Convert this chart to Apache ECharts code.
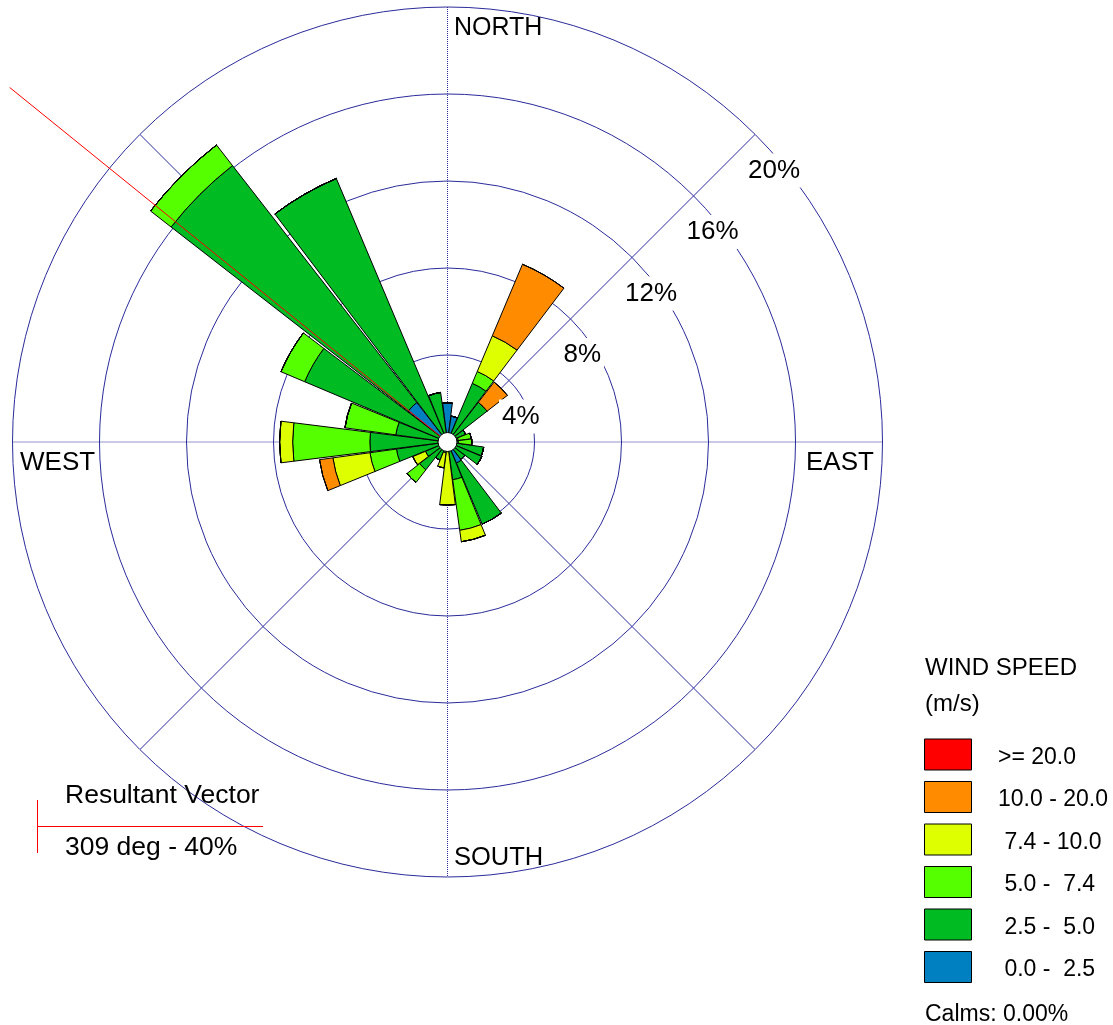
<!DOCTYPE html>
<html>
<head>
<meta charset="utf-8">
<script src="https://cdn.jsdelivr.net/npm/echarts@6/dist/echarts.min.js"></script>
<style>
html,body{margin:0;padding:0;background:#fff;}
#chart{width:1113px;height:1025px;}
</style>
</head>
<body>
<div id="chart"></div>
<script>
// ---- data ----
const directions = [0,15,30,45,60,75,90,105,120,135,150,165,180,195,210,225,240,255,270,285,300,315,330,345];
const speedClasses = ['>= 20.0', '10.0 - 20.0', ' 7.4 - 10.0', ' 5.0 -  7.4', ' 2.5 -  5.0', ' 0.0 -  2.5'];
const speedColors = ['#FF0000', '#FF8C00', '#DDFF00', '#55FF00', '#00BB22', '#0080C0'];
// percent frequency per direction, per speed class
const s0_2_5   = [1.8,1.2,0,0,0,0,0,0,0,0,1.05,0,0,0,0,0,0,0,0,0,0,2.3,0,0];
const s2_5_5   = [0,0,2.93,2.31,0.9,0.5,0.5,1.68,1.71,1.0,3.05,1.75,0.45,0.5,0.9,1.62,1.1,2.37,3.57,2.4,7.13,13.8,13.15,2.3];
const s5_7_4   = [0,0,0.59,0,0,0.6,0.62,0,0,0,0,2.35,0,0,0,0.74,0,1.23,3.55,2.36,1.18,1.2,0,0];
const s7_4_10  = [0,0,1.78,0,0,0,0,0,0,0,0,0.53,2.45,0.7,0,0,0.63,1.72,0.6,0,0,0,0,0];
const s10_20   = [0,0,3.57,1.18,0,0,0,0,0,0,0,0,0,0,0,0,0,0.62,0,0,0,0,0,0];
const s20      = [0,0,0,0,0,0,0,0,0,0,0,0,0,0,0,0,0,0,0,0,0,0,0,0];
const ringValues = [4,8,12,16,20];
const resultantDir = 309;
const resultantLen = 25.9; // drawn length on the percent scale (line runs off the rose)
const calms = '0.00%';

// ---- layout ----
const CX = 447.5, CY = 442, R = 435;
const FONT = '"Liberation Sans", Arial, sans-serif';
const GRID = '#2b2b9b';

const chart = echarts.init(document.getElementById('chart'), null, {renderer:'canvas'});

const stackData = [s0_2_5, s2_5_5, s5_7_4, s7_4_10, s10_20, s20];
const stackColors = speedColors.slice().reverse();
const stackNames = speedClasses.slice().reverse();

const series = [];
// grid lines in second polar
series.push({type:'line', coordinateSystem:'polar', polarIndex:1, z:1, symbol:'none', silent:true, animation:false,
  lineStyle:{color:GRID, width:1, type:[1,1]}, data:[[20,0],[20,180]]});
series.push({type:'line', coordinateSystem:'polar', polarIndex:1, z:1, symbol:'none', silent:true, animation:false,
  lineStyle:{color:GRID, width:1, type:[1,1]}, data:[[20,90],[20,270]]});
series.push({type:'line', coordinateSystem:'polar', polarIndex:1, z:1, symbol:'none', silent:true, animation:false,
  lineStyle:{color:GRID, width:1}, data:[[20,45],[20,225]]});
series.push({type:'line', coordinateSystem:'polar', polarIndex:1, z:1, symbol:'none', silent:true, animation:false,
  lineStyle:{color:GRID, width:1}, data:[[20,135],[20,315]]});

stackData.forEach((d, i) => {
  series.push({
    type:'bar', coordinateSystem:'polar', polarIndex:0, stack:'wind', name:stackNames[i], z:2,
    barCategoryGap:'5%', animation:false,
    itemStyle:{color:stackColors[i], borderColor:'#000', borderWidth:1},
    data:d
  });
});

const graphics = [];
// ring labels
ringValues.forEach(v => {
  const r = v / 20 * R;
  graphics.push({type:'text', z:10, x: CX + r*Math.SQRT1_2 - 10, y: CY - r*Math.SQRT1_2 + 36,
    style:{text: v + '%', font: '26px ' + FONT, fill:'#000', textAlign:'left', textVerticalAlign:'middle',
      backgroundColor:'#fff', padding:[5,3,3,3]}});
});
// compass labels
[['NORTH',454,28,25],['SOUTH',454,858,25.5],['WEST',20,463,26],['EAST',806,463,26]].forEach(t => {
  graphics.push({type:'text', z:10, x:t[1], y:t[2], style:{text:t[0], font:t[3] + 'px ' + FONT, fill:'#000', textAlign:'left', textVerticalAlign:'middle'}});
});
// legend
graphics.push({type:'text', z:10, x:925, y:668, style:{text:'WIND SPEED', font:'24px ' + FONT, fill:'#000', textVerticalAlign:'middle'}});
graphics.push({type:'text', z:10, x:925, y:704, style:{text:'(m/s)', font:'24px ' + FONT, fill:'#000', textVerticalAlign:'middle'}});
speedClasses.forEach((name, i) => {
  const y = 739 + i * 42.5;
  graphics.push({type:'rect', z:10, shape:{x:924.5, y:y, width:47, height:31}, style:{fill:speedColors[i], stroke:'#000', lineWidth:1}});
  graphics.push({type:'text', z:10, x:998, y:y + 18.5, style:{text:name, font:'23px ' + FONT, fill:'#000', textVerticalAlign:'middle'}});
});
graphics.push({type:'text', z:10, x:925, y:1015, style:{text:'Calms: ' + calms, font:'23px ' + FONT, fill:'#000', textVerticalAlign:'middle'}});
// resultant vector legend
graphics.push({type:'line', z:10, shape:{x1:37.5, y1:800, x2:37.5, y2:853}, style:{stroke:'#FF0000', lineWidth:1}});
graphics.push({type:'line', z:10, shape:{x1:37.5, y1:826.5, x2:263, y2:826.5}, style:{stroke:'#FF0000', lineWidth:1}});
graphics.push({type:'text', z:10, x:65, y:796, style:{text:'Resultant Vector', font:'26.5px ' + FONT, fill:'#000', textVerticalAlign:'middle'}});
graphics.push({type:'text', z:10, x:65, y:848, style:{text: resultantDir + ' deg - 40%', font:'26.5px ' + FONT, fill:'#000', textVerticalAlign:'middle'}});

chart.setOption({
  animation:false,
  backgroundColor:'#fff',
  polar:[
    {center:[CX, CY], radius:[0, R]},
    {center:[CX, CY], radius:[0, R]}
  ],
  angleAxis:[
    {polarIndex:0, type:'category', data:directions.map(String), startAngle:97.5, clockwise:true, boundaryGap:true,
     axisLine:{show:false}, axisTick:{show:false}, axisLabel:{show:false}, splitLine:{show:false}},
    {polarIndex:1, type:'value', min:0, max:360, startAngle:90, clockwise:true,
     axisLine:{show:false}, axisTick:{show:false}, axisLabel:{show:false}, splitLine:{show:false}}
  ],
  radiusAxis:[
    {polarIndex:0, type:'value', min:0, max:20, interval:4,
     axisLine:{show:false}, axisTick:{show:false}, axisLabel:{show:false},
     splitLine:{show:true, lineStyle:{color:GRID, width:1}}},
    {polarIndex:1, type:'value', min:0, max:20,
     axisLine:{show:false}, axisTick:{show:false}, axisLabel:{show:false}, splitLine:{show:false}}
  ],
  series: series,
  graphic: graphics
});

// resultant vector line (through the polar scale) and calm circle on top
const p0 = chart.convertToPixel({polarIndex:1}, [0, resultantDir]);
const p1 = chart.convertToPixel({polarIndex:1}, [resultantLen, resultantDir]);
chart.setOption({graphic: graphics.concat([
  {type:'line', z:15, silent:true, shape:{x1:p0[0], y1:p0[1], x2:p1[0], y2:p1[1]}, style:{stroke:'#FF0000', lineWidth:1}},
  {type:'circle', z:20, silent:true, shape:{cx:CX, cy:CY, r:9.5}, style:{fill:'#fff', stroke:'#000', lineWidth:1}}
])});
</script>
</body>
</html>
